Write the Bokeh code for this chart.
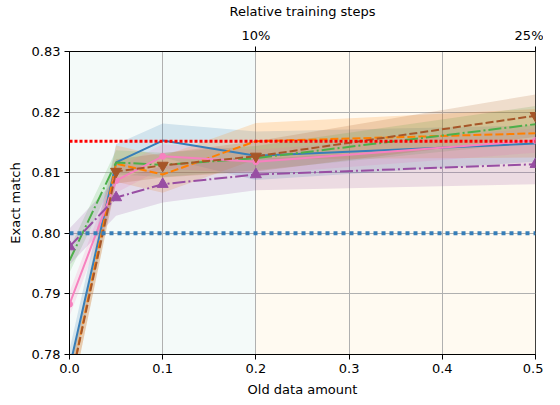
from bokeh.plotting import figure
from bokeh.models import (Range1d, LinearAxis, FixedTicker, PrintfTickFormatter,
                          Span, BoxAnnotation, ColumnDataSource)
from bokeh.embed import file_html
from bokeh.resources import INLINE

# ---- data ----
old_data = [0.0, 0.05, 0.1, 0.2, 0.5]

blue_mean = [0.7778, 0.8117, 0.8153, 0.8128, 0.8148]
blue_std = [0.003, 0.003, 0.0028, 0.004, 0.003]

orange_mean = [0.7744, 0.8115, 0.8097, 0.8152, 0.8165]
orange_std = [0.003, 0.003, 0.003, 0.003, 0.004]

green_mean = [0.7955, 0.8117, 0.8113, 0.8124, 0.8180]
green_std = [0.002, 0.002, 0.002, 0.002, 0.003]

brown_mean = [0.7745, 0.8102, 0.8112, 0.8127, 0.8194]
brown_std = [0.003, 0.002, 0.002, 0.0025, 0.0035]

pink_mean = [0.7883, 0.8087, 0.8127, 0.8118, 0.8153]
pink_std = [0.002, 0.002, 0.002, 0.002, 0.002]

purple_mean = [0.7978, 0.8059, 0.8081, 0.8097, 0.8114]
purple_std = [0.003, 0.003, 0.003, 0.0026, 0.0033]

baseline_red = 0.8152
baseline_blue = 0.8000

region_edges = [0.0, 0.2, 0.5]
x_ticks = [0.0, 0.1, 0.2, 0.3, 0.4, 0.5]
y_ticks = [0.78, 0.79, 0.80, 0.81, 0.82, 0.83]
top_ticks = [0.2, 0.5]
top_labels = ["10%", "25%"]

FONT = "DejaVu Sans"

p = figure(frame_width=466, frame_height=303, output_backend="svg", toolbar_location=None,
           x_range=Range1d(0, 0.5), y_range=Range1d(0.78, 0.83),
           min_border_left=69, min_border_right=8, min_border_top=44, min_border_bottom=40,
           x_axis_label="Old data amount", y_axis_label="Exact match")
p.background_fill_color = "white"
p.border_fill_color = "white"
p.outline_line_color = "black"
p.outline_line_width = 1
p.outline_line_alpha = 1

# background regions
p.add_layout(BoxAnnotation(left=region_edges[0], right=region_edges[1], fill_color="#f4faf9",
                           fill_alpha=1, line_alpha=0, level="image"))
p.add_layout(BoxAnnotation(left=region_edges[1], right=region_edges[2], fill_color="#fffaf1",
                           fill_alpha=1, line_alpha=0, level="image"))

for g in (p.xgrid, p.ygrid):
    g.grid_line_color = "#b0b0b0"
    g.grid_line_width = 1

bottom = p.below[0]
left = p.left[0]
bottom.ticker = FixedTicker(ticks=x_ticks)
left.ticker = FixedTicker(ticks=y_ticks)
bottom.formatter = PrintfTickFormatter(format="%.1f")
left.formatter = PrintfTickFormatter(format="%.2f")

top = LinearAxis(ticker=FixedTicker(ticks=top_ticks),
                 major_label_overrides={t: l for t, l in zip(top_ticks, top_labels)},
                 axis_label="Relative training steps")
p.add_layout(top, "above")

for ax in (bottom, left, top):
    ax.major_label_text_font = FONT
    ax.major_label_text_font_size = "13px"
    ax.major_label_text_color = "black"
    ax.axis_label_text_font = FONT
    ax.axis_label_text_font_size = "13px"
    ax.axis_label_text_font_style = "normal"
    ax.axis_label_text_color = "black"
    ax.axis_line_color = "black"
    ax.major_tick_line_color = "black"
    ax.major_tick_out = 5
    ax.major_tick_in = 0
    ax.minor_tick_line_color = None
    ax.major_label_standoff = 4
    ax.axis_label_standoff = 6

series = [
    (blue_mean, blue_std, "#377eb8", "solid", None, 0),
    (orange_mean, orange_std, "#ff7f00", "8 3", None, 0),
    (green_mean, green_std, "#4daf4a", "13 3 2 3", None, 0),
    (pink_mean, pink_std, "#f781bf", "solid", "circle", 6),
    (purple_mean, purple_std, "#984ea3", "13 3 2 3", "triangle", 11),
    (brown_mean, brown_std, "#a65628", "8 3", "inverted_triangle", 11),
]

for mean, std, color, dash, marker, msize in series:
    lo = [m - s for m, s in zip(mean, std)]
    hi = [m + s for m, s in zip(mean, std)]
    src = ColumnDataSource(dict(x=old_data, y=mean, lo=lo, hi=hi))
    p.varea(x="x", y1="lo", y2="hi", source=src, fill_color=color, fill_alpha=0.18)

for mean, std, color, dash, marker, msize in series:
    src = ColumnDataSource(dict(x=old_data, y=mean))
    p.line(x="x", y="y", source=src, line_color=color, line_width=2, line_dash=dash)
    if marker:
        p.scatter(x="x", y="y", source=src, marker=marker, size=msize,
                  fill_color=color, line_color=color)

p.add_layout(Span(location=baseline_red, dimension="width", line_color="red",
                  line_width=3, line_dash="3 2"))
p.add_layout(Span(location=baseline_blue, dimension="width", line_color="#377eb8",
                  line_width=4, line_dash="4 4"))

open("out.html", "w").write(file_html(p, INLINE))
